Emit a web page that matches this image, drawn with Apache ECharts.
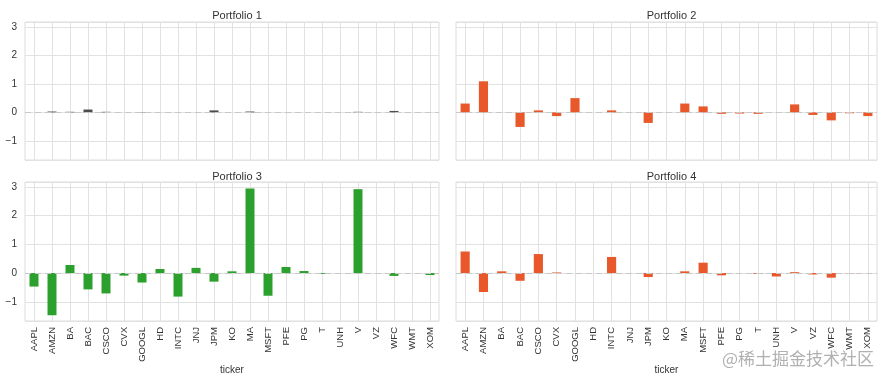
<!DOCTYPE html>
<html><head><meta charset="utf-8">
<script src="https://cdn.jsdelivr.net/npm/echarts@6/dist/echarts.min.js"></script>
<style>html,body{margin:0;padding:0;background:#fff}#c{width:886px;height:379px}</style>
</head><body><div id="c"></div>
<script>
const tickers = ["AAPL","AMZN","BA","BAC","CSCO","CVX","GOOGL","HD","INTC","JNJ","JPM","KO","MA","MSFT","PFE","PG","T","UNH","V","VZ","WFC","WMT","XOM"];
const titles = ["Portfolio 1","Portfolio 2","Portfolio 3","Portfolio 4"];
const portfolio1 = [0,0.03,0.02,0.10,0.02,0,0.01,0,0,0,0.07,0,0.03,0,0,0,0,0,0.02,0,0.05,0,0];
const portfolio2 = [0.31,1.09,0,-0.51,0.07,-0.13,0.50,0,0.07,0,-0.37,0,0.31,0.21,-0.05,-0.04,-0.05,0,0.28,-0.09,-0.28,-0.03,-0.13];
const portfolio3 = [-0.47,-1.47,0.28,-0.57,-0.71,-0.09,-0.33,0.14,-0.82,0.18,-0.30,0.06,2.94,-0.79,0.21,0.07,-0.03,0,2.92,0,-0.10,0,-0.07];
const portfolio4 = [0.75,-0.66,0.06,-0.27,0.66,0.02,0,0,0.56,0,-0.14,0,0.06,0.36,-0.08,0,-0.03,-0.12,0.03,-0.05,-0.16,-0.01,0];
const yTicks = [-1,0,1,2,3];
const colors = ["#4d4d4d","#e8582a","#2ca02c","#e8582a"];

const chart = echarts.init(document.getElementById('c'), null, {renderer:'canvas'});
const grids = [
  {left:25, right:447, top:22, height:138},
  {left:456, right:9, top:22, height:138},
  {left:25, right:447, top:182, height:139},
  {left:456, right:9, top:182, height:139}
];
const all = [portfolio1, portfolio2, portfolio3, portfolio4];
const font = 'Liberation Sans, Arial, sans-serif';
const gridSeries = all.map((d,i)=>({
  type:'line', xAxisIndex:i, yAxisIndex:i, data:[], z:0, silent:true,
  markLine:{silent:true, symbol:'none', z:0, label:{show:false}, animation:false,
    lineStyle:{color:'#e2e2e2', type:'solid', width:1},
    data: tickers.map(t=>({xAxis:t}))}
}));
const barSeries = all.map((d,i)=>({
  type:'bar', xAxisIndex:i, yAxisIndex:i, data:d, barWidth:'50%', z:2,
  itemStyle:{color:colors[i]},
  markLine:{silent:true, symbol:'none', z:3, label:{show:false}, animation:false,
    lineStyle:{color:'#c8c8c8', type:[6,4], width:1}, data:[{yAxis:0}]}
}));
const option = {
  animation:false,
  backgroundColor:'#fff',
  title: titles.map((t,i)=>({
    text:t, left: (i%2===0? (25+439)/2 : (456+877)/2), top:(i<2?5:166), textAlign:'center',
    textStyle:{fontSize:11, fontWeight:'normal', color:'#333', fontFamily:font}
  })),
  grid: grids.map(g=>Object.assign({show:true, borderColor:'#dcdcdc', borderWidth:1, containLabel:false}, g)),
  xAxis: grids.map((g,i)=>({
    type:'category', gridIndex:i, data:tickers, boundaryGap:true,
    axisLine:{show:false}, axisTick:{show:false},
    splitLine:{show:false},
    axisLabel:{show:i>=2, rotate:90, interval:0, fontSize:9.5, color:'#333', margin:6, fontFamily:font},
    name: i>=2 ? 'ticker' : '', nameLocation:'middle', nameGap:42,
    nameTextStyle:{fontSize:10, color:'#333', fontFamily:font}
  })),
  yAxis: grids.map((g,i)=>({
    type:'value', gridIndex:i, min:-1.67, max:3.17, splitNumber:5,
    axisLine:{show:false}, axisTick:{show:false},
    splitLine:{show:true, lineStyle:{color:'#e2e2e2', width:1}},
    axisLabel:{show:i%2===0, showMinLabel:false, showMaxLabel:false, fontSize:10, color:'#333', margin:8, fontFamily:font,
      formatter:v=> yTicks.indexOf(v)>=0 ? (v<0 ? '\u2212'+Math.abs(v) : String(v)) : ''}
  })),
  series: gridSeries.concat(barSeries),
  graphic:[{type:'text', left:722, top:350, style:{text:'@稀土掘金技术社区', fontSize:17, fill:'rgba(150,150,150,0.75)', fontFamily:'Noto Sans CJK SC'}}]
};
chart.setOption(option);
</script></body></html>
